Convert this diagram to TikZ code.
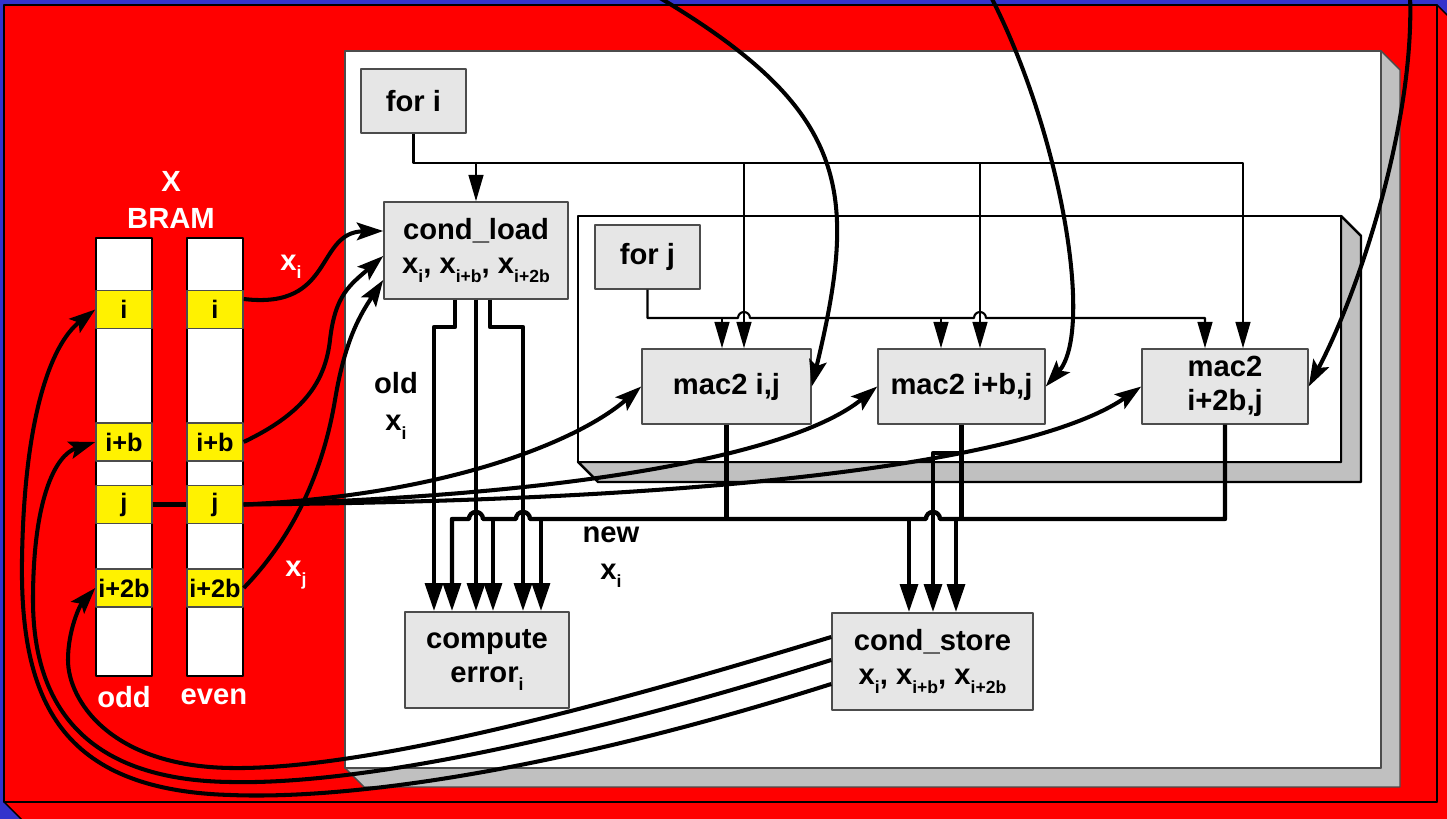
\documentclass[tikz,border=0pt]{standalone}
\usepackage{fontspec}
\setmainfont{Liberation Sans}
\usetikzlibrary{arrows.meta}
\definecolor{bgblue}{HTML}{3333CC}
\definecolor{framered}{HTML}{FF0000}
\definecolor{sidegray}{HTML}{C0C0C0}
\definecolor{boxgray}{HTML}{E6E6E6}
\newcommand{\subtx}[1]{\raisebox{-2.4pt}{\fontsize{5}{6}\selectfont #1}}
\begin{document}
\begin{tikzpicture}[x=0.01cm,y=-0.01cm,line join=round,>={Triangle[length=8pt,width=5pt]}]
	\tikzset{blk/.style={draw=black!70,fill=boxgray,line width=0.4pt,inner sep=0pt,align=center,font=\bfseries\fontsize{8.3}{9.6}\selectfont},
		cell/.style={draw=black!70,fill=yellow,line width=0.4pt,minimum width=0.56cm,minimum height=0.38cm,inner sep=0pt,font=\bfseries\fontsize{7.2}{8}\selectfont},
		lbl/.style={align=center,inner sep=0pt,font=\bfseries\fontsize{8.3}{10.5}\selectfont},
		sig/.style={line width=0.6pt},
		sigarr/.style={sig,-{Triangle[length=7.5pt,width=4.2pt]}},
		bus/.style={line width=1.25pt},
		busarr/.style={bus,->},
		curve/.style={line width=1.15pt,-{Stealth[length=7.5pt,width=5pt,inset=1.5pt]}}}
	\useasboundingbox (0,0) rectangle (1447,819);
	\clip (0,0) rectangle (1447,819);
	% frames
	\fill[bgblue] (0,0) rectangle (1447,819);
	\draw[fill=framered,line width=0.4pt] (1437,5)--(1480,48)--(1480,845)--(47,845)--(4,802)--(1437,802)--cycle;
	\draw[fill=framered,line width=0.4pt] (4,5) rectangle (1437,802);
	\draw[fill=sidegray,draw=black!70,line width=0.4pt] (1381,51)--(1400,70)--(1400,787)--(364,787)--(345,768)--(1381,768)--cycle;
	\draw[fill=white,draw=black!70,line width=0.4pt] (345,51) rectangle (1381,768);
	\draw[fill=sidegray,line width=0.7pt] (1341,216)--(1361,236)--(1361,482)--(598,482)--(578,462)--(1341,462)--cycle;
	\draw[fill=white,line width=0.7pt] (578,216) rectangle (1341,462);
	% X BRAM
	\draw[fill=white,line width=0.5pt] (96,238) rectangle (152,676);
	\draw[fill=white,line width=0.5pt] (187,238) rectangle (243,676);
	\foreach \col/\cx in {o/124,e/215} {
		\node[cell] (\col i) at (\cx,309.5) {i};
		\node[cell] (\col ib) at (\cx,442) {i+b};
		\node[cell] (\col j) at (\cx,504.5) {j};
		\node[cell] (\col i2b) at (\cx,588) {i+2b};
	}
	\node[lbl,text=white] (bramlbl) at (171,200) {X\\BRAM};
	\node[lbl,text=white] (oddlbl) at (124,697) {odd};
	\node[lbl,text=white] (evenlbl) at (214,697) {even};
	\node[lbl,text=white] (xilbl) at (291,267) {x\subtx{i}};
	\node[lbl,text=white] (xjlbl) at (296,575) {x\subtx{j}};
	\node[lbl] (oldlbl) at (396,406) {old\\x\subtx{i}};
	\node[lbl] (newlbl) at (611,557) {new\\x\subtx{i}};
	% blocks
	\node[blk,minimum width=1.05cm,minimum height=0.64cm] (fori) at (413.5,101) {for i};
	\node[blk,minimum width=1.84cm,minimum height=0.97cm] (load) at (476,250.5) {cond\_load\\x\subtx{i}, x\subtx{i+b}, x\subtx{i+2b}};
	\node[blk,minimum width=1.05cm,minimum height=0.64cm] (forj) at (647.5,257) {for j};
	\node[blk,minimum width=1.69cm,minimum height=0.75cm] (macA) at (726.5,386.5) {mac2 i,j};
	\node[blk,minimum width=1.67cm,minimum height=0.75cm] (macB) at (961.5,386.5) {mac2 i+b,j};
	\node[blk,minimum width=1.66cm,minimum height=0.75cm] (macC) at (1225,386.5) {mac2\\i+2b,j};
	\node[blk,minimum width=1.64cm,minimum height=0.96cm] (err) at (487,660) {compute\\error\subtx{i}};
	\node[blk,minimum width=2.01cm,minimum height=0.97cm] (store) at (932.5,661.5) {cond\_store\\x\subtx{i}, x\subtx{i+b}, x\subtx{i+2b}};
	% loop indices
	\draw[sigarr] (fori.south) |- (1243,163) -- (macC.north -| 1243,0);
	\draw[sigarr] (load.north |- 0,163) -- (load.north);
	\foreach \xi/\m in {744/macA,980/macB}
	\draw[sigarr] (\xi,163) -- (\m.north -| \xi,0);
	\draw[sigarr] (forj.south) |- (738,318) arc[start angle=180,end angle=0,radius=1.7pt] -- (974,318) arc[start angle=180,end angle=0,radius=1.7pt] -- (1205,318) -- (macC.north -| 1205,0);
	\foreach \xj/\m in {722/macA,941/macB}
	\draw[sigarr] (\xj,318) -- (\m.north -| \xj,0);
	% old x_i
	\draw[busarr] (load.south -| 455,0) |- (434,327) -- (err.north -| 434,0);
	\draw[busarr] (load.south) -- (err.north -| 476,0);
	\draw[busarr] (load.south -| 490,0) |- (523,327) -- (err.north -| 523,0);
	% new x_i
	\draw[busarr] (macC.south) |- (940,519) arc[start angle=0,end angle=180,radius=2pt] -- (530,519) arc[start angle=0,end angle=180,radius=2pt] -- (483,519) arc[start angle=0,end angle=180,radius=2pt] -- (452,519) -- (err.north -| 452,0);
	\draw[bus] (macA.south) -- (macA.south |- 0,519);
	\draw[bus] (macB.south) -- (macB.south |- 0,519);
	\draw[busarr] (macB.south |- 0,453) -| (store.north -| 933,0);
	\foreach \xa in {493,541}
	\draw[busarr] (\xa,519) -- (err.north -| \xa,0);
	\foreach \xb in {909,956}
	\draw[busarr] (\xb,519) -- (store.north -| \xb,0);
	% BRAM reads
	\draw[curve] (ei.east |- 0,299) .. controls (335,310) and (315,232) .. (load.west |- 0,231);
	\draw[curve] (eib.east) .. controls (300,415) and (325,385) .. (330,340) .. controls (335,295) and (350,285) .. (load.west |- 0,256);
	\draw[curve] (ei2b.east) .. controls (300,530) and (325,460) .. (335,400) .. controls (345,340) and (360,315) .. (load.west |- 0,280);
	\draw[line width=1.15pt] (oj.east) -- (ej.west);
	\draw[curve] (ej.east) .. controls (450,495) and (580,440) .. (macA.west);
	\draw[curve] (ej.east) .. controls (600,495) and (800,450) .. (macB.west);
	\draw[curve] (ej.east) .. controls (800,500) and (1050,450) .. (macC.west);
	% from outside
	\coordinate (topA) at (655,-5);
	\coordinate (topB) at (990,-5);
	\coordinate (topC) at (1410,-5);
	\draw[curve] (topA) .. controls (850,110) and (859,190) .. (macA.east);
	\draw[curve] (topB) .. controls (1060,130) and (1095,330) .. (macB.east);
	\draw[curve] (topC) .. controls (1415,120) and (1360,290) .. (macC.east);
	% BRAM writes
	\draw[curve] (store.west |- 0,684) .. controls (560,770) and (350,800) .. (230,795) .. controls (60,790) and (20,700) .. (22,560) .. controls (24,420) and (50,345) .. (oi.west);
	\draw[curve] (store.west |- 0,660) .. controls (560,745) and (350,785) .. (230,782) .. controls (80,780) and (33,700) .. (33,600) .. controls (33,500) and (55,455) .. (oib.west);
	\draw[curve] (store.west |- 0,637) .. controls (560,720) and (350,770) .. (230,768) .. controls (110,766) and (68,700) .. (68,660) .. controls (68,630) and (80,605) .. (oi2b.west);
\end{tikzpicture}
\end{document}
